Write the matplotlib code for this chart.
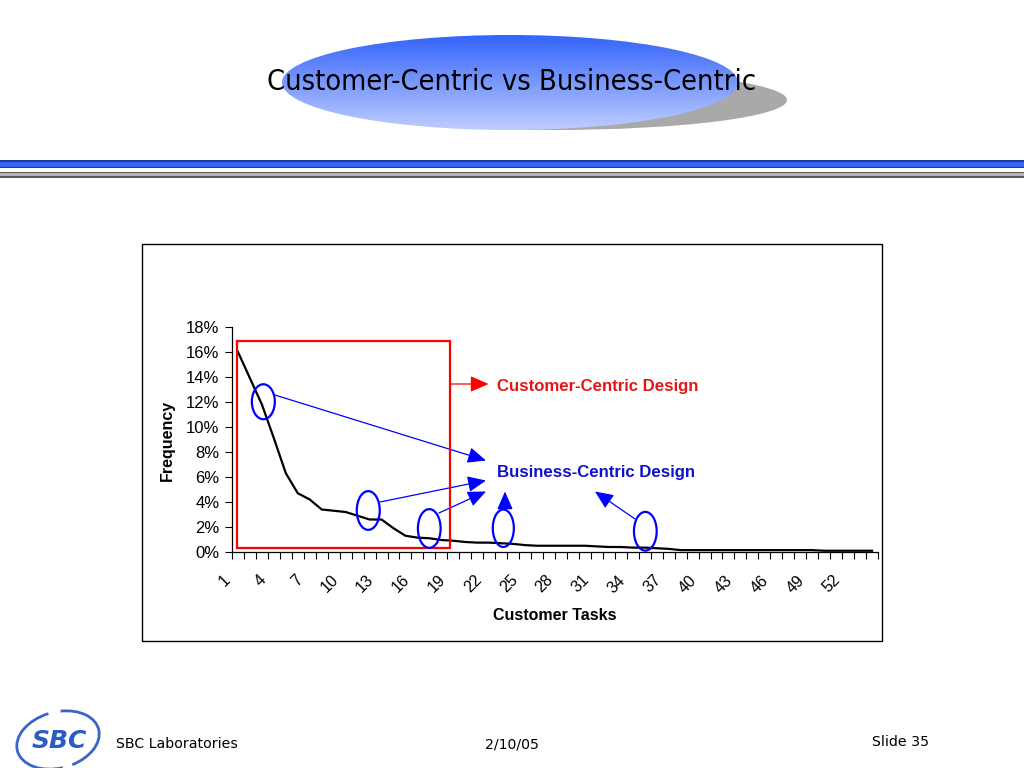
import numpy as np
import matplotlib
matplotlib.use("Agg")
import matplotlib.pyplot as plt
import matplotlib.transforms as mtransforms
from matplotlib.patches import Ellipse, Rectangle, Arc
from matplotlib.ticker import PercentFormatter, FixedLocator

# ---------------- data ----------------
tasks = list(range(1, 55))
frequency = [0.160, 0.139, 0.118, 0.091, 0.063, 0.047, 0.042, 0.034, 0.033, 0.032,
             0.029, 0.026, 0.026, 0.019, 0.013, 0.0115, 0.011, 0.0096, 0.009, 0.008,
             0.0075, 0.0075, 0.007, 0.0065, 0.0055, 0.005, 0.005, 0.005, 0.005, 0.005,
             0.0045, 0.004, 0.004, 0.0035, 0.0035, 0.003, 0.0025, 0.0015, 0.0015, 0.0015,
             0.0015, 0.0015, 0.0015, 0.0015, 0.0015, 0.0015, 0.0015, 0.0015, 0.0015, 0.001,
             0.001, 0.001, 0.001, 0.001]
tick_labels = [str(t) for t in range(1, 55, 3)]
title_text = "Customer-Centric vs Business-Centric"
label_customer = "Customer-Centric Design"
label_business = "Business-Centric Design"

W, H = 1024, 768
fig = plt.figure(figsize=(W / 100, H / 100), dpi=100)
fig.patch.set_facecolor("white")

# decoration layer in pixel coordinates (origin top-left)
deco = fig.add_axes([0, 0, 1, 1], zorder=0)
deco.axis("off")

# title ellipse with shadow + gradient
deco.add_patch(Ellipse((553, 100), 468, 60, facecolor="#a9a9a9", edgecolor="none", zorder=1))
ell = Ellipse((510, 82.5), 456, 95, facecolor="none", edgecolor="none", zorder=2)
deco.add_patch(ell)
top = np.array([52, 100, 250]) / 255
bot = np.array([190, 205, 255]) / 255
t = np.linspace(0, 1, 200)[:, None]
grad = (top[None, :] * (1 - t) + bot[None, :] * t)[:, None, :]
grad = np.repeat(grad, 2, axis=1)
im = deco.imshow(grad, extent=[282, 738, 130, 35], aspect="auto", zorder=2, interpolation="bilinear")
im.set_clip_path(ell)
deco.set_xlim(0, W)
deco.set_ylim(H, 0)
deco.text(512, 82, title_text, ha="center", va="center", fontsize=20.8,
          family="DejaVu Sans", fontstretch="condensed", color="black", zorder=3)

# header rule lines
deco.add_patch(Rectangle((0, 160), W, 8.3, facecolor="#1c3c9c", edgecolor="none", zorder=1))
deco.add_patch(Rectangle((0, 161.6), W, 5.0, facecolor="#3566f0", edgecolor="none", zorder=1))
deco.add_patch(Rectangle((0, 171.7), W, 6.0, facecolor="#5a5a5a", edgecolor="none", zorder=1))
deco.add_patch(Rectangle((0, 173.2), W, 3.0, facecolor="#b4b4b4", edgecolor="none", zorder=1))

# chart frame
deco.add_patch(Rectangle((142, 244), 740, 397, facecolor="white", edgecolor="black", lw=1.0, zorder=1))

# footer
deco.add_patch(Arc((58, 740), 84, 56, angle=-15, theta1=95, theta2=265, color="#3a64c8", lw=2, zorder=2))
deco.add_patch(Arc((58, 740), 84, 56, angle=-15, theta1=290, theta2=75, color="#3a64c8", lw=2, zorder=2))
deco.text(59, 741, "SBC", ha="center", va="center", fontsize=18, fontweight="bold",
          fontstyle="italic", color="#2a5cc8", family="DejaVu Sans", zorder=3)
deco.text(116, 744, "SBC Laboratories", ha="left", va="center", fontsize=10.2, family="DejaVu Sans")
deco.text(512, 744, "2/10/05", ha="center", va="center", fontsize=10.2, family="DejaVu Sans")
deco.text(872, 742, "Slide 35", ha="left", va="center", fontsize=10.2, family="DejaVu Sans")

# ---------------- chart axes ----------------
ax = fig.add_axes([232 / W, 1 - 552 / H, 646 / W, 225 / H], zorder=2)
ax.set_facecolor("none")
ax.plot(tasks, frequency, color="black", lw=1.6, zorder=3, solid_joinstyle="round")
ax.set_xlim(0.5, 54.5)
ax.set_ylim(0, 0.18)
ax.yaxis.set_major_locator(FixedLocator(np.arange(0, 0.181, 0.02)))
ax.yaxis.set_major_formatter(PercentFormatter(1.0, decimals=0))
for s in ["top", "right"]:
    ax.spines[s].set_visible(False)
for s in ["left", "bottom"]:
    ax.spines[s].set_color("black")
    ax.spines[s].set_linewidth(0.9)

ax.set_xticks(np.arange(0.5, 55, 1.0), minor=True)
ax.set_xticks(range(1, 55, 3))
ax.tick_params(axis="x", which="major", length=0, pad=18.5)
ax.tick_params(axis="x", which="minor", length=5, width=0.8, direction="out")
ax.tick_params(axis="y", which="major", length=5, width=0.8, direction="out", pad=4,
               labelsize=12)
ax.set_xticklabels(tick_labels, rotation=45, ha="right", va="center", rotation_mode="anchor",
                   family="Liberation Sans", fontsize=11.5)
shift = mtransforms.ScaledTranslation(-10 / 100, 0, fig.dpi_scale_trans)
for tick in ax.xaxis.get_major_ticks():
    tick.label1.set_transform(tick.label1.get_transform() + shift)
for lbl in ax.get_yticklabels():
    lbl.set_family("Liberation Sans")

ax.set_xlabel("Customer Tasks", family="Liberation Sans", fontweight="bold", fontsize=11.5)
ax.xaxis.set_label_coords(0.5, -0.28)
ax.xaxis.label.set_va("center")
ax.set_ylabel("Frequency", family="Liberation Sans", fontweight="bold", fontsize=11.5)
ax.yaxis.set_label_coords(-0.1006, 0.498)
ax.yaxis.label.set_va("center")

# ---------------- annotations (data coordinates) ----------------
blue = "#0000ff"
red = "#ff0000"
ax.add_patch(Rectangle((0.92, 0.0032), 18.72 - 0.92, 0.1688 - 0.0032, facecolor="none",
                       edgecolor=red, lw=1.6, clip_on=False, zorder=4))

ellipses = [(3.12, 0.1202, 1.92, 0.028), (11.89, 0.0332, 1.92, 0.031),
            (16.99, 0.0188, 1.90, 0.031), (23.18, 0.0190, 1.76, 0.030),
            (35.05, 0.0166, 1.90, 0.031)]
for cx, cy, w, h in ellipses:
    ax.add_patch(Ellipse((cx, cy), w, h, facecolor="none", edgecolor=blue, lw=1.6,
                         clip_on=False, zorder=5))

arrows = [((4.09, 0.1256), (21.73, 0.0732)), ((12.87, 0.0400), (21.73, 0.0572)),
          ((17.80, 0.0312), (21.73, 0.0484)), ((23.32, 0.0344), (23.32, 0.0484)),
          ((34.19, 0.0264), (30.84, 0.0484))]
for start, end in arrows:
    ax.annotate("", xy=end, xytext=start, annotation_clip=False,
                arrowprops=dict(arrowstyle="-|>,head_length=0.8,head_width=0.35", color=blue,
                                lw=0.9, mutation_scale=14, shrinkA=0, shrinkB=0))
ax.annotate("", xy=(21.95, 0.1344), xytext=(18.72, 0.1344), annotation_clip=False,
            arrowprops=dict(arrowstyle="-|>,head_length=0.8,head_width=0.35", color=red,
                            lw=0.9, mutation_scale=14, shrinkA=0, shrinkB=0))

ax.text(22.65, 0.1328, label_customer, color="#e81414", fontweight="bold", fontsize=12.1,
        family="Liberation Sans", ha="left", va="center", clip_on=False)
ax.text(22.65, 0.0640, label_business, color="#1010c8", fontweight="bold", fontsize=12.1,
        family="Liberation Sans", ha="left", va="center", clip_on=False)

fig.savefig("out.png", dpi=100, facecolor="white")
